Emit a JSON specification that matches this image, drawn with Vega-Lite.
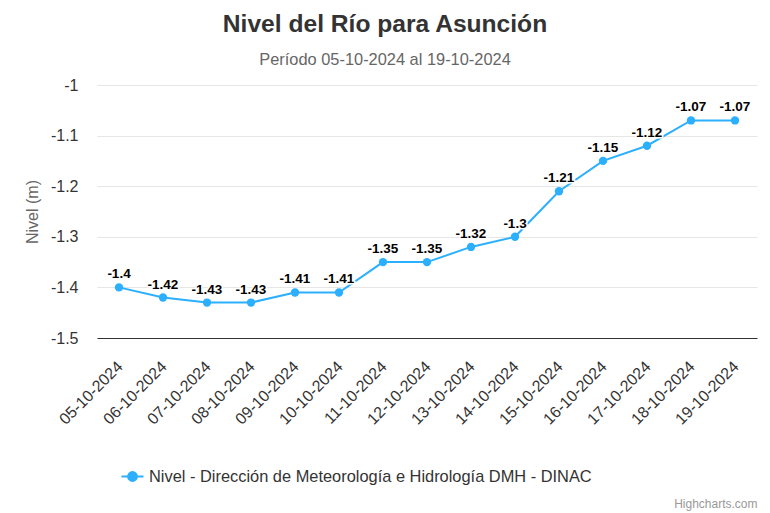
{
  "$schema": "https://vega.github.io/schema/vega-lite/v6.json",
  "width": 660,
  "height": 253,
  "autosize": {"type": "none"},
  "padding": {"left": 97, "top": 85, "right": 13, "bottom": 175},
  "background": "white",
  "config": {
    "font": "Liberation Sans",
    "view": {"stroke": null}
  },
  "title": {
    "text": "Nivel del Río para Asunción",
    "subtitle": "Período 05-10-2024 al 19-10-2024",
    "font": "Liberation Sans",
    "fontSize": 24.6,
    "fontWeight": "bold",
    "color": "#333333",
    "subtitleFont": "Liberation Sans",
    "subtitleFontSize": 16.4,
    "subtitleColor": "#666666",
    "subtitlePadding": 14,
    "anchor": "middle",
    "dx": -42,
    "offset": 8
  },
  "data": {
    "values": [
      {"fecha": "05-10-2024", "nivel": -1.4, "serie": "Nivel - Dirección de Meteorología e Hidrología DMH - DINAC"},
      {"fecha": "06-10-2024", "nivel": -1.42, "serie": "Nivel - Dirección de Meteorología e Hidrología DMH - DINAC"},
      {"fecha": "07-10-2024", "nivel": -1.43, "serie": "Nivel - Dirección de Meteorología e Hidrología DMH - DINAC"},
      {"fecha": "08-10-2024", "nivel": -1.43, "serie": "Nivel - Dirección de Meteorología e Hidrología DMH - DINAC"},
      {"fecha": "09-10-2024", "nivel": -1.41, "serie": "Nivel - Dirección de Meteorología e Hidrología DMH - DINAC"},
      {"fecha": "10-10-2024", "nivel": -1.41, "serie": "Nivel - Dirección de Meteorología e Hidrología DMH - DINAC"},
      {"fecha": "11-10-2024", "nivel": -1.35, "serie": "Nivel - Dirección de Meteorología e Hidrología DMH - DINAC"},
      {"fecha": "12-10-2024", "nivel": -1.35, "serie": "Nivel - Dirección de Meteorología e Hidrología DMH - DINAC"},
      {"fecha": "13-10-2024", "nivel": -1.32, "serie": "Nivel - Dirección de Meteorología e Hidrología DMH - DINAC"},
      {"fecha": "14-10-2024", "nivel": -1.3, "serie": "Nivel - Dirección de Meteorología e Hidrología DMH - DINAC"},
      {"fecha": "15-10-2024", "nivel": -1.21, "serie": "Nivel - Dirección de Meteorología e Hidrología DMH - DINAC"},
      {"fecha": "16-10-2024", "nivel": -1.15, "serie": "Nivel - Dirección de Meteorología e Hidrología DMH - DINAC"},
      {"fecha": "17-10-2024", "nivel": -1.12, "serie": "Nivel - Dirección de Meteorología e Hidrología DMH - DINAC"},
      {"fecha": "18-10-2024", "nivel": -1.07, "serie": "Nivel - Dirección de Meteorología e Hidrología DMH - DINAC"},
      {"fecha": "19-10-2024", "nivel": -1.07, "serie": "Nivel - Dirección de Meteorología e Hidrología DMH - DINAC"}
    ]
  },
  "encoding": {
    "x": {
      "field": "fecha",
      "type": "ordinal",
      "sort": null,
      "scale": {"type": "point", "padding": 0.5},
      "axis": {
        "labelAngle": -45,
        "labelFontSize": 16,
        "labelColor": "#333333",
        "labelFont": "Liberation Sans",
        "labelPadding": 20,
        "labelOffset": -5,
        "ticks": false,
        "domainColor": "#333333",
        "domainWidth": 1,
        "grid": false,
        "title": "Highcharts.com",
        "titleFont": "Liberation Sans",
        "titleFontSize": 12,
        "titleFontWeight": "normal",
        "titleColor": "#999999",
        "titleX": 660,
        "titleY": 169,
        "titleAlign": "right",
        "titleBaseline": "alphabetic"
      }
    },
    "y": {
      "field": "nivel",
      "type": "quantitative",
      "scale": {"domain": [-1.5, -1], "nice": false, "zero": false},
      "axis": {
        "values": [-1.5, -1.4, -1.3, -1.2, -1.1, -1],
        "labelExpr": "'' + datum.value",
        "labelFontSize": 16,
        "labelColor": "#333333",
        "labelFont": "Liberation Sans",
        "labelPadding": 19,
        "ticks": false,
        "domain": false,
        "gridColor": "#e6e6e6",
        "gridWidth": 1,
        "title": "Nivel (m)",
        "titleFont": "Liberation Sans",
        "titleFontSize": 16,
        "titleFontWeight": "normal",
        "titleColor": "#666666",
        "titleAngle": -90,
        "titleX": -65,
        "titleY": 126.5,
        "titleAlign": "center",
        "titleBaseline": "middle"
      }
    }
  },
  "layer": [
    {
      "mark": {"type": "line", "color": "#2caffe", "strokeWidth": 2}
    },
    {
      "mark": {"type": "point", "filled": true, "size": 70, "opacity": 1, "shape": "circle"},
      "encoding": {
        "color": {
          "field": "serie",
          "type": "nominal",
          "scale": {"range": ["#2caffe"]},
          "legend": {
            "orient": "none",
            "legendX": 27,
            "legendY": 383,
            "title": null,
            "symbolType": "M-1.5,0L1.5,0M-0.6,0A0.6,0.6,0,1,1,0.6,0A0.6,0.6,0,1,1,-0.6,0Z",
            "symbolSize": 215,
            "symbolStrokeWidth": 2,
            "symbolStrokeColor": "#2caffe",
            "symbolFillColor": "#2caffe",
            "labelFontSize": 16.4,
            "labelFont": "Liberation Sans",
            "labelColor": "#333333",
            "labelOffset": 8,
            "labelLimit": 600,
            "encode": {
              "symbols": {"update": {"fill": {"value": "#2caffe"}, "stroke": {"value": "#2caffe"}, "strokeWidth": {"value": 2}, "opacity": {"value": 1}}}
            }
          }
        }
      }
    },
    {
      "mark": {"type": "text", "font": "Liberation Sans", "fontSize": 13.5, "fontWeight": "bold", "baseline": "alphabetic", "dy": -9, "stroke": "white", "strokeWidth": 3, "strokeJoin": "round", "fill": "white"},
      "encoding": {"text": {"field": "nivel", "type": "nominal"}}
    },
    {
      "mark": {"type": "text", "font": "Liberation Sans", "fontSize": 13.5, "fontWeight": "bold", "baseline": "alphabetic", "dy": -9, "color": "#000000"},
      "encoding": {"text": {"field": "nivel", "type": "nominal"}}
    }
  ]
}
